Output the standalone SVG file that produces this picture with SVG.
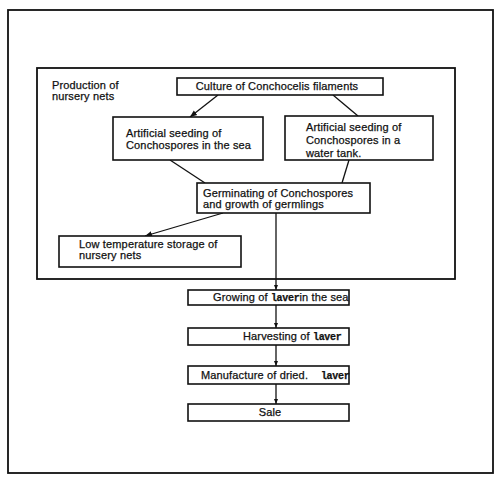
<svg xmlns="http://www.w3.org/2000/svg" width="500" height="479" viewBox="0 0 500 479">
<style>
.box{fill:#fff;stroke:#111;stroke-width:1.6}
.frame{fill:none;stroke:#111;stroke-width:1.8}
.t{font-family:"Liberation Sans",Arial,sans-serif;font-size:11px;fill:#111;stroke:#111;stroke-width:0.25;letter-spacing:0.15px}
.m{font-family:"Liberation Mono","Courier New",monospace;font-weight:bold;font-size:10px;fill:#111;letter-spacing:-0.3px}
.c{text-anchor:middle}
.ln{stroke:#111;stroke-width:1.3;fill:none}
</style>
<defs>
<marker id="ah" viewBox="0 0 10 10" refX="10" refY="5" markerWidth="7" markerHeight="7" orient="auto" markerUnits="userSpaceOnUse">
<path d="M0,1 L10,5 L0,9 Z" fill="#111"/>
</marker>
<marker id="sm" viewBox="0 0 10 10" refX="10" refY="5" markerWidth="5" markerHeight="5" orient="auto" markerUnits="userSpaceOnUse">
<path d="M0,1 L10,5 L0,9 Z" fill="#111"/>
</marker>
</defs>
<rect width="500" height="479" fill="#fff"/>
<rect class="frame" x="8" y="10" width="485" height="463"/>
<g id="nursery-container">
<rect class="frame" x="37" y="68" width="418" height="211"/>
<text class="t" x="52" y="89">Production of</text>
<text class="t" x="52" y="100">nursery nets</text>
</g>
<g id="connectors">
<line class="ln" x1="218" y1="95" x2="190" y2="117" marker-end="url(#ah)"/>
<line class="ln" x1="333" y1="95" x2="358" y2="116"/>
<line class="ln" x1="170" y1="160" x2="205" y2="183"/>
<line class="ln" x1="349" y1="160" x2="342" y2="183"/>
<line class="ln" x1="223" y1="213" x2="145" y2="236" marker-end="url(#ah)"/>
<line class="ln" x1="276" y1="213" x2="276" y2="290" marker-end="url(#sm)"/>
<line class="ln" x1="276" y1="305" x2="276" y2="328" marker-end="url(#sm)"/>
<line class="ln" x1="276" y1="345" x2="276" y2="366" marker-end="url(#sm)"/>
<line class="ln" x1="276" y1="384" x2="276" y2="404" marker-end="url(#sm)"/>
</g>
<g id="culture">
<rect class="box" x="177" y="78" width="206" height="17"/>
<text class="t c" x="277" y="90">Culture of Conchocelis filaments</text>
</g>
<g id="seeding-sea">
<rect class="box" x="113" y="117" width="150" height="43"/>
<text class="t" x="126" y="137">Artificial seeding of</text>
<text class="t" x="126" y="149">Conchospores in the sea</text>
</g>
<g id="seeding-tank">
<rect class="box" x="285" y="116" width="148" height="44"/>
<text class="t" x="306" y="131">Artificial seeding of</text>
<text class="t" x="306" y="144">Conchospores in a</text>
<text class="t" x="306" y="157">water tank.</text>
</g>
<g id="germinating">
<rect class="box" x="197" y="183" width="173" height="30"/>
<text class="t" x="203" y="197">Germinating of Conchospores</text>
<text class="t" x="203" y="208">and growth of germlings</text>
</g>
<g id="storage">
<rect class="box" x="59" y="236" width="182" height="31"/>
<text class="t" x="79" y="248">Low temperature storage of</text>
<text class="t" x="79" y="259">nursery nets</text>
</g>
<g id="growing">
<rect class="box" x="188" y="290" width="161" height="15"/>
<text class="t" x="213" y="301">Growing of <tspan class="m">laver</tspan>in the sea</text>
</g>
<g id="harvesting">
<rect class="box" x="188" y="328" width="161" height="17"/>
<text class="t" x="243" y="340">Harvesting of <tspan class="m">laver</tspan></text>
</g>
<g id="manufacture">
<rect class="box" x="188" y="366" width="161" height="18"/>
<text class="t" x="201" y="379" xml:space="preserve">Manufacture of dried.    <tspan class="m">laver</tspan></text>
</g>
<g id="sale">
<rect class="box" x="188" y="404" width="161" height="17"/>
<text class="t c" x="270" y="416">Sale</text>
</g>
</svg>
